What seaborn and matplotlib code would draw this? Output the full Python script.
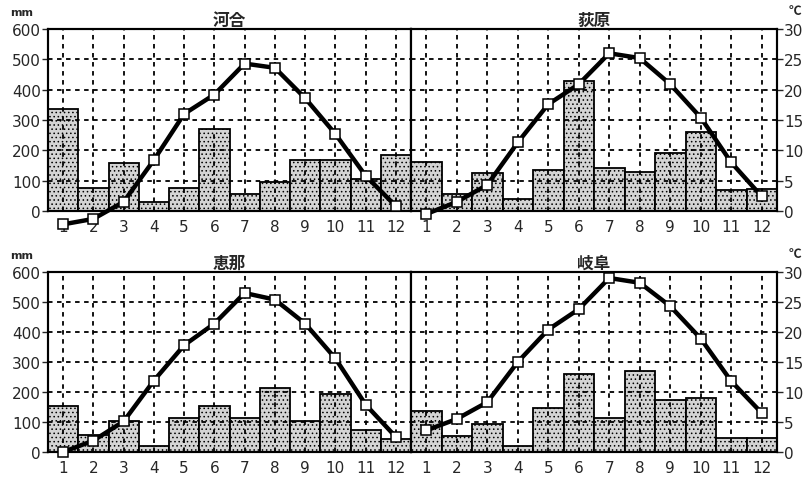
import numpy as np
import pandas as pd
import seaborn as sns
import matplotlib.pyplot as plt

# Monthly data (precipitation in mm, temperature in degC)
months = list(range(1, 13))
stations = ['河合', '荻原', '恵那', '岐阜']

precip_kawai = [336, 77, 157, 31, 77, 270, 57, 95, 168, 168, 105, 184]
temp_kawai = [-2.2, -1.3, 1.5, 8.4, 16.0, 19.2, 24.3, 23.6, 18.6, 12.7, 5.8, 0.8]

precip_hagiwara = [163, 57, 124, 39, 135, 430, 143, 130, 191, 259, 69, 72]
temp_hagiwara = [-0.5, 1.5, 4.3, 11.3, 17.6, 20.9, 26.0, 25.2, 20.9, 15.4, 8.0, 2.4]

precip_ena = [155, 57, 102, 20, 113, 155, 113, 213, 105, 193, 74, 44]
temp_ena = [0.0, 1.9, 5.1, 11.9, 17.8, 21.4, 26.5, 25.4, 21.4, 15.6, 7.9, 2.5]

precip_gifu = [138, 52, 94, 20, 147, 260, 114, 271, 172, 180, 46, 46]
temp_gifu = [3.6, 5.5, 8.3, 15.0, 20.4, 23.8, 29.0, 28.2, 24.3, 18.9, 11.8, 6.5]

precip_ticks = [0, 100, 200, 300, 400, 500, 600]
temp_ticks = [0, 5, 10, 15, 20, 25, 30]

sns.set_style('ticks')
plt.rcParams['font.family'] = ['DejaVu Sans', 'Noto Sans CJK JP']
plt.rcParams['hatch.linewidth'] = 0.6

fig = plt.figure(figsize=(8.05, 4.81), dpi=100)

x0, xm, x1 = 48 / 805, 411 / 805, 777 / 805
rows = [(1 - 212 / 481, 182 / 481), (1 - 453 / 481, 180 / 481)]

panels = [
    (stations[0], precip_kawai, temp_kawai, 0, 'left'),
    (stations[1], precip_hagiwara, temp_hagiwara, 0, 'right'),
    (stations[2], precip_ena, temp_ena, 1, 'left'),
    (stations[3], precip_gifu, temp_gifu, 1, 'right'),
]

for name, precip, temp, row, side in panels:
    bottom, height = rows[row]
    if side == 'left':
        ax = fig.add_axes([x0, bottom, xm - x0, height])
    else:
        ax = fig.add_axes([xm, bottom, x1 - xm, height])

    df = pd.DataFrame({'month': months, 'precip': precip, 'temp': temp})

    sns.barplot(data=df, x='month', y='precip', ax=ax, native_scale=True,
                width=1, color='#d4d4d4', saturation=1, errorbar=None,
                edgecolor='black', linewidth=1.3, hatch='....', zorder=1)
    ax.set_xlim(0.5, 12.5)
    ax.set_ylim(0, 600)
    ax.set_xlabel('')
    ax.set_ylabel('')
    ax.set_xticks(months)
    ax.set_xticklabels([str(m) for m in months])
    ax.set_yticks(precip_ticks)
    ax.grid(True, color='black', linestyle=(0, (2.5, 2.5)), linewidth=1.3)
    ax.set_axisbelow(False)
    ax.tick_params(axis='x', length=0, pad=6, labelsize=11)
    ax.tick_params(axis='y', length=4, width=1, direction='out', pad=1, labelsize=11)
    for s in ax.spines.values():
        s.set_linewidth(1.5)
        s.set_color('black')

    tax = ax.twinx()
    sns.lineplot(data=df, x='month', y='temp', ax=tax, color='black',
                 linewidth=3.2, marker='s', markersize=6.5,
                 markerfacecolor='white', markeredgecolor='black',
                 markeredgewidth=1.1, clip_on=False, zorder=5)
    tax.set_ylim(0, 30)
    tax.set_xlim(0.5, 12.5)
    tax.set_ylabel('')
    tax.set_xlabel('')
    tax.set_yticks(temp_ticks)
    for s in tax.spines.values():
        s.set_linewidth(1.5)
        s.set_color('black')

    if side == 'left':
        tax.tick_params(axis='y', right=False, labelright=False)
        fig.text(x0 - 38 / 805, bottom + height + 12 / 481, 'mm', fontsize=8,
                 fontweight='bold', ha='left', va='bottom')
    else:
        ax.tick_params(axis='y', left=False, labelleft=False)
        tax.tick_params(axis='y', length=4, width=1, direction='out', pad=1,
                        labelsize=11)
        fig.text(x1 + 12 / 805, bottom + height + 12 / 481, '℃', fontsize=9,
                 fontweight='bold', ha='left', va='bottom',
                 family=['Noto Sans CJK JP', 'DejaVu Sans'])

    ax.set_title(name, fontsize=12, fontweight='bold', pad=3,
                 family=['Noto Sans CJK JP', 'DejaVu Sans'])

fig.savefig('out.png', dpi=100)
